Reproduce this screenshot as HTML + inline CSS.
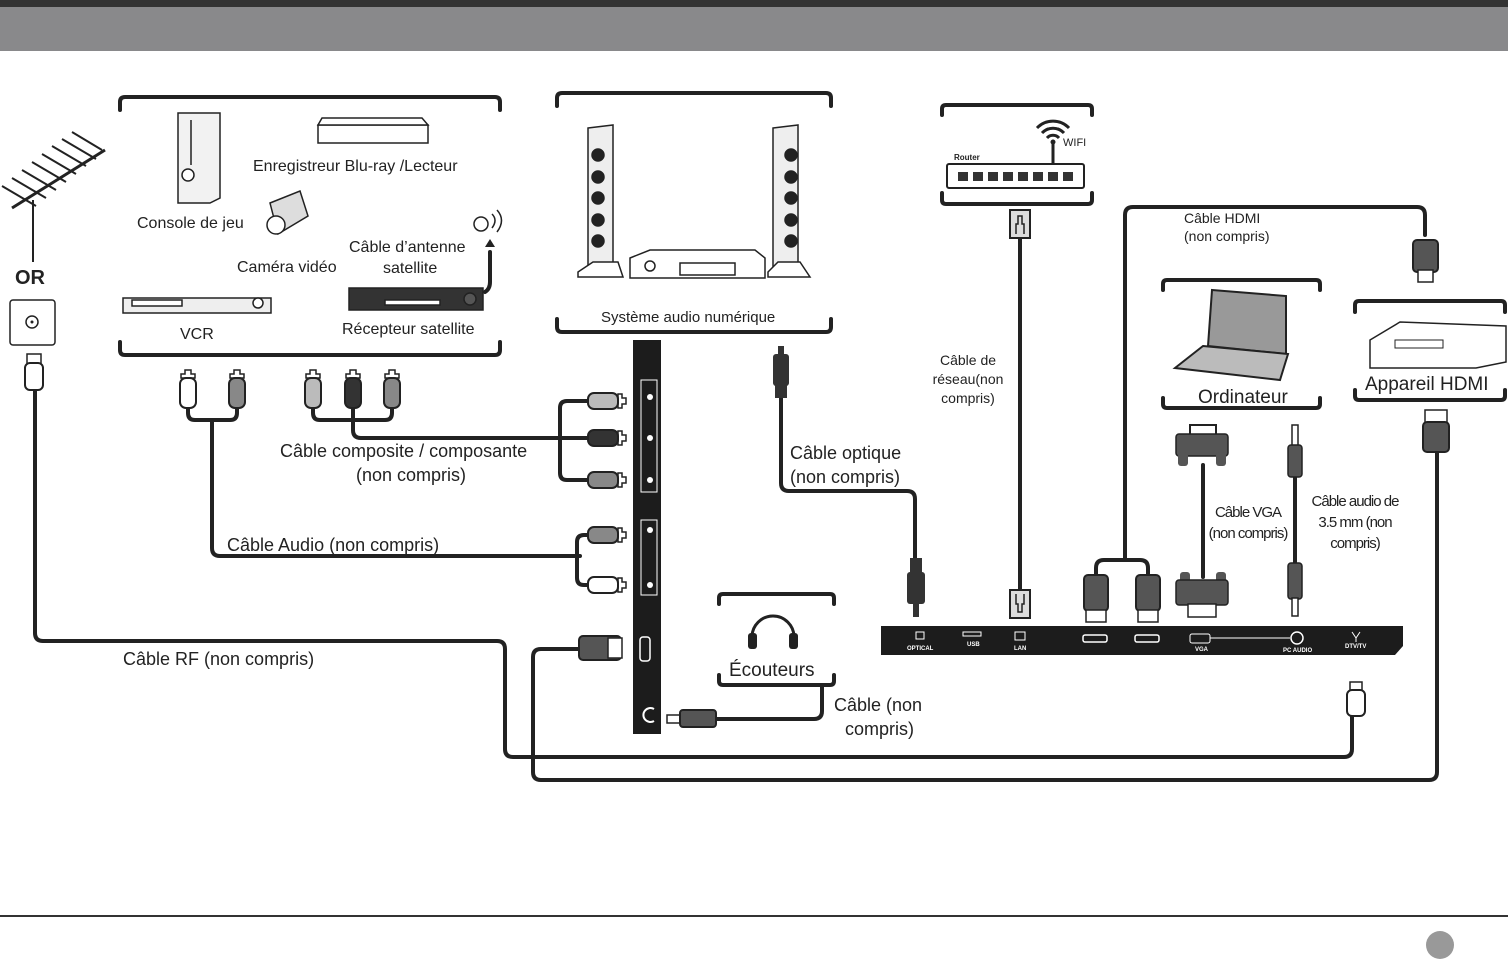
<!DOCTYPE html>
<html><head><meta charset="utf-8"><style>
html,body{margin:0;padding:0;background:#fff;}
svg{display:block;}
text{font-family:"Liberation Sans",sans-serif;fill:#222;}
</style></head><body>
<svg width="1508" height="965" viewBox="0 0 1508 965" xmlns="http://www.w3.org/2000/svg">
<defs>
<g id="rca"><path d="M-3,-14 h6 v4 h4 v4 h-14 v-4 h4z" fill="#fff" stroke="#222" stroke-width="1.5"/><rect x="-8" y="-6" width="16" height="30" rx="6" stroke="#222" stroke-width="2"/></g>
<g id="rcah"><path d="M14,-3 v6 h-4 v4 h-4 v-14 h4 v4z" fill="#fff" stroke="#222" stroke-width="1.5"/><rect x="-24" y="-8" width="30" height="16" rx="6" stroke="#222" stroke-width="2"/></g>
</defs>
<!-- header -->
<rect x="0" y="0" width="1508" height="7" fill="#333"/>
<rect x="0" y="7" width="1508" height="44" fill="#89898b"/>
<line x1="0" y1="916" x2="1508" y2="916" stroke="#333" stroke-width="2"/>
<circle cx="1440" cy="945" r="14" fill="#999"/>

<g fill="none" stroke="#222" stroke-width="4" stroke-linecap="round" stroke-linejoin="round">
<!-- brackets -->
<path d="M120,110 v-8 q0,-5 5,-5 h370 q5,0 5,5 v8"/>
<path d="M120,342 v8 q0,5 5,5 h370 q5,0 5,-5 v-8"/>
<path d="M557,106 v-8 q0,-5 5,-5 h264 q5,0 5,5 v8"/>
<path d="M557,319 v8 q0,5 5,5 h264 q5,0 5,-5 v-8"/>
<path d="M942,115 v-6 q0,-4 4,-4 h142 q4,0 4,4 v6"/>
<path d="M942,193 v7 q0,4 4,4 h142 q4,0 4,-4 v-7"/>
<path d="M1163,290 v-6 q0,-4 4,-4 h149 q4,0 4,4 v6"/>
<path d="M1163,398 v6 q0,4 4,4 h149 q4,0 4,-4 v-6"/>
<path d="M1355,312 v-7 q0,-4 4,-4 h142 q4,0 4,4 v7"/>
<path d="M1355,390 v6 q0,4 4,4 h142 q4,0 4,-4 v-6"/>
<path d="M719,604 v-6 q0,-4 4,-4 h107 q4,0 4,4 v6"/>
<path d="M719,675 v6 q0,4 4,4 h107 q4,0 4,-4 v-6"/>

<!-- audio cable -->
<path d="M188,405 v8 q0,7 7,7 h35 q7,0 7,-7 v-8"/>
<path d="M212,420 v128 q0,8 8,8 h360"/>
<path d="M600,535 h-16 q-7,0 -7,7 v36 q0,7 7,7 h16"/>
<!-- composite -->
<path d="M313,405 v8 q0,7 7,7 h65 q7,0 7,-7 v-8"/>
<path d="M353,405 v25 q0,8 8,8 h230"/>
<path d="M595,401 h-28 q-7,0 -7,7 v65 q0,7 7,7 h28"/>
<!-- RF -->
<path d="M35,388 v245 q0,8 8,8 h454 q8,0 8,8 v100 q0,8 8,8 h831 q8,0 8,-8 v-44"/>
<!-- HDMI bottom -->
<path d="M1437,450 v322 q0,8 -8,8 h-888 q-8,0 -8,-8 v-115 q0,-8 8,-8 h40"/>
<!-- optical -->
<path d="M781,395 v88 q0,8 8,8 h118 q8,0 8,8 v60"/>
<!-- headphone cable -->
<path d="M822,686 v25 q0,8 -8,8 h-100"/>
<!-- LAN -->
<path d="M1020,238 v352"/>
<!-- HDMI top -->
<path d="M1425,235 v-20 q0,-8 -8,-8 h-284 q-8,0 -8,8 v345"/>
<path d="M1096,578 v-10 q0,-8 8,-8 h36 q8,0 8,8 v10"/>
<!-- VGA, audio 3.5 -->
<path d="M1203,465 v112"/>
<path d="M1295,475 v90"/>
<!-- sat arrow -->
<path d="M485,292 q5,-3 5,-10 v-30"/>
</g>
<path d="M485,247 l5,-8 l5,8z" fill="#222"/>

<!-- antenna -->
<g stroke="#222" stroke-width="3" fill="none">
<line x1="12" y1="208" x2="105" y2="150"/>
<line x1="33" y1="200" x2="33" y2="262" stroke-width="2"/>
<g stroke-width="2">
<line x1="2" y1="186" x2="36" y2="206"/><line x1="12" y1="178" x2="46" y2="198"/><line x1="22" y1="170" x2="56" y2="190"/>
<line x1="32" y1="162" x2="66" y2="182"/><line x1="42" y1="154" x2="76" y2="174"/><line x1="52" y1="146" x2="86" y2="166"/>
<line x1="62" y1="139" x2="96" y2="159"/><line x1="72" y1="132" x2="102" y2="150"/>
</g></g>
<text x="15" y="284" font-size="20" font-weight="bold">OR</text>
<rect x="10" y="300" width="45" height="45" rx="3" fill="#fff" stroke="#222" stroke-width="1.5"/>
<circle cx="32" cy="322" r="6" fill="none" stroke="#222" stroke-width="1.5"/><circle cx="32" cy="322" r="1.5" fill="#222"/>
<rect x="27" y="354" width="14" height="10" fill="#fff" stroke="#222" stroke-width="1.5"/>
<rect x="25" y="363" width="18" height="27" rx="5" fill="#fff" stroke="#222" stroke-width="2"/>

<!-- devices group 1 -->
<g stroke="#222" stroke-width="1.5" fill="#fff">
<path d="M178,113 h42 v85 l-10,5 h-32z" fill="#f2f2f2"/>
<circle cx="188" cy="175" r="6"/><line x1="191" y1="120" x2="191" y2="165"/>
<path d="M318,125 h110 v18 h-110z"/><path d="M322,118 h100 l6,7 h-110z"/>
<path d="M123,298 h148 v15 h-148z" fill="#eee"/><circle cx="258" cy="303" r="5"/><rect x="132" y="300" width="50" height="6"/>
<path d="M349,288 h134 v22 h-134z" fill="#333"/><circle cx="470" cy="299" r="6" fill="#555"/><rect x="385" y="300" width="55" height="5"/>
<path d="M270,203 l30,-12 l8,25 l-30,18z" fill="#ddd"/><circle cx="276" cy="225" r="9"/>
<circle cx="481" cy="224" r="7"/><path d="M492,214 q6,6 0,14 M497,210 q9,10 0,22" fill="none"/>
</g>
<text x="137" y="228" font-size="16">Console de jeu</text>
<text x="253" y="171" font-size="16">Enregistreur Blu-ray /Lecteur</text>
<text x="237" y="272" font-size="16">Caméra vidéo</text>
<text x="349" y="252" font-size="16">Câble d’antenne</text>
<text x="383" y="273" font-size="16">satellite</text>
<text x="180" y="339" font-size="16">VCR</text>
<text x="342" y="334" font-size="16">Récepteur satellite</text>

<!-- RCA plugs top -->
<use href="#rca" x="188" y="384" fill="#fff"/>
<use href="#rca" x="237" y="384" fill="#888"/>
<use href="#rca" x="313" y="384" fill="#bbb"/>
<use href="#rca" x="353" y="384" fill="#333"/>
<use href="#rca" x="392" y="384" fill="#888"/>
<!-- horizontal RCA plugs -->
<use href="#rcah" x="612" y="401" fill="#bbb"/>
<use href="#rcah" x="612" y="438" fill="#333"/>
<use href="#rcah" x="612" y="480" fill="#888"/>
<use href="#rcah" x="612" y="535" fill="#888"/>
<use href="#rcah" x="612" y="585" fill="#fff"/>

<text x="280" y="457" font-size="18">Câble composite / composante</text>
<text x="356" y="481" font-size="18">(non compris)</text>
<text x="227" y="551" font-size="18">Câble Audio (non compris)</text>
<text x="123" y="665" font-size="18">Câble RF (non compris)</text>

<!-- side panel -->
<rect x="633" y="340" width="28" height="394" fill="#1c1c1c"/>
<rect x="641" y="380" width="16" height="112" fill="none" stroke="#fff" stroke-width="1"/>
<rect x="641" y="520" width="16" height="75" fill="none" stroke="#fff" stroke-width="1"/>
<circle cx="650" cy="397" r="3" fill="#fff"/><circle cx="650" cy="438" r="3" fill="#fff"/><circle cx="650" cy="480" r="3" fill="#fff"/>
<circle cx="650" cy="530" r="3" fill="#fff"/><circle cx="650" cy="585" r="3" fill="#fff"/>
<rect x="640" y="637" width="10" height="24" rx="3" fill="none" stroke="#fff" stroke-width="1.5"/>
<path d="M654,709 a7,7 0 1 0 0,12" fill="none" stroke="#fff" stroke-width="2"/>
<!-- hdmi plug left -->
<rect x="579" y="636" width="42" height="24" rx="4" fill="#555" stroke="#222" stroke-width="2"/>
<rect x="608" y="638" width="14" height="20" fill="#fff" stroke="#222" stroke-width="1.5"/>
<!-- headphone jack -->
<rect x="667" y="715" width="14" height="8" fill="#fff" stroke="#222" stroke-width="1.5"/>
<rect x="680" y="710" width="36" height="17" rx="3" fill="#555" stroke="#222" stroke-width="2"/>

<!-- audio system -->
<g stroke="#222" stroke-width="1.5">
<path d="M588,128 l25,-3 v140 l-25,2z" fill="#eee"/>
<circle cx="598" cy="155" r="6" fill="#222"/><circle cx="598" cy="177" r="6" fill="#222"/><circle cx="598" cy="198" r="6" fill="#222"/><circle cx="598" cy="220" r="6" fill="#222"/><circle cx="598" cy="241" r="6" fill="#222"/>
<path d="M578,272 l15,-10 h25 l5,15 h-45z" fill="#fff"/>
<path d="M773,128 l25,-3 v140 l-25,2z" fill="#eee"/>
<circle cx="791" cy="155" r="6" fill="#222"/><circle cx="791" cy="177" r="6" fill="#222"/><circle cx="791" cy="198" r="6" fill="#222"/><circle cx="791" cy="220" r="6" fill="#222"/><circle cx="791" cy="241" r="6" fill="#222"/>
<path d="M768,272 l10,-10 h22 l10,15 h-42z" fill="#fff"/>
<path d="M630,258 l20,-8 h105 l10,8 v20 h-135z" fill="#fff"/>
<rect x="680" y="263" width="55" height="12" fill="#fff"/><circle cx="650" cy="266" r="5" fill="#fff"/>
</g>
<text x="601" y="322" font-size="15">Système audio numérique</text>

<!-- optical plug top -->
<rect x="778" y="346" width="6" height="10" fill="#333"/>
<rect x="773" y="354" width="16" height="32" rx="3" fill="#333"/>
<rect x="775" y="384" width="12" height="14" fill="#333"/>
<text x="790" y="459" font-size="18">Câble optique</text>
<text x="790" y="483" font-size="18">(non compris)</text>
<!-- optical plug bottom -->
<rect x="910" y="558" width="12" height="16" fill="#333"/>
<rect x="907" y="572" width="18" height="32" rx="3" fill="#333"/>
<rect x="913" y="603" width="6" height="14" fill="#333"/>

<!-- headphones -->
<path d="M752,645 v-8 a21,21 0 0 1 42,0 v8" fill="none" stroke="#222" stroke-width="3"/>
<rect x="748" y="633" width="9" height="16" rx="3" fill="#222"/><rect x="789" y="633" width="9" height="16" rx="3" fill="#222"/>
<text x="729" y="676" font-size="19">Écouteurs</text>
<text x="834" y="711" font-size="18">Câble (non</text>
<text x="845" y="735" font-size="18">compris)</text>

<!-- router -->
<path d="M1053,163 v-22" stroke="#222" stroke-width="3"/>
<path d="M1037,128 a22,22 0 0 1 32,0 M1042,133 a15,15 0 0 1 22,0 M1047,138 a8,8 0 0 1 12,0" fill="none" stroke="#222" stroke-width="3"/>
<circle cx="1053" cy="142" r="2.5" fill="#222"/>
<text x="1063" y="146" font-size="11">WIFI</text>
<text x="954" y="160" font-size="8" font-weight="bold">Router</text>
<rect x="947" y="164" width="137" height="24" rx="2" fill="#fff" stroke="#222" stroke-width="2"/>
<g fill="#333"><rect x="958" y="172" width="10" height="9"/><rect x="973" y="172" width="10" height="9"/><rect x="988" y="172" width="10" height="9"/><rect x="1003" y="172" width="10" height="9"/><rect x="1018" y="172" width="10" height="9"/><rect x="1033" y="172" width="10" height="9"/><rect x="1048" y="172" width="10" height="9"/><rect x="1063" y="172" width="10" height="9"/></g>
<rect x="1010" y="210" width="20" height="28" fill="#ddd" stroke="#222" stroke-width="2"/>
<path d="M1016,234 v-10 h2 v-8 h4 v8 h2 v10" fill="none" stroke="#222" stroke-width="1.5"/>
<rect x="1010" y="590" width="20" height="28" fill="#ddd" stroke="#222" stroke-width="2"/>
<path d="M1016,594 v10 h2 v8 h4 v-8 h2 v-10" fill="none" stroke="#222" stroke-width="1.5"/>
<text x="968" y="365" font-size="14" text-anchor="middle">Câble de</text>
<text x="968" y="384" font-size="14" text-anchor="middle">réseau(non</text>
<text x="968" y="403" font-size="14" text-anchor="middle">compris)</text>

<!-- HDMI labels -->
<text x="1184" y="223" font-size="14">Câble HDMI</text>
<text x="1184" y="241" font-size="14">(non compris)</text>
<rect x="1413" y="240" width="25" height="32" rx="4" fill="#555" stroke="#222" stroke-width="2"/>
<rect x="1418" y="270" width="15" height="12" fill="#fff" stroke="#222" stroke-width="1.5"/>

<!-- laptop -->
<path d="M1212,290 l74,6 v58 l-78,-8z" fill="#999" stroke="#222" stroke-width="2"/>
<path d="M1203,346 l85,8 l-8,26 l-105,-12z" fill="#bbb" stroke="#222" stroke-width="2"/>
<text x="1198" y="403" font-size="19">Ordinateur</text>
<!-- HDMI device -->
<path d="M1370,340 l30,-18 l106,4 v36 l-30,6 h-106z" fill="#fff" stroke="#222" stroke-width="1.5"/>
<rect x="1395" y="340" width="48" height="8" fill="#fff" stroke="#222" stroke-width="1"/>
<text x="1365" y="390" font-size="19">Appareil HDMI</text>
<rect x="1425" y="410" width="22" height="14" fill="#fff" stroke="#222" stroke-width="1.5"/>
<rect x="1423" y="422" width="26" height="30" rx="4" fill="#555" stroke="#222" stroke-width="2"/>

<!-- VGA top -->
<rect x="1190" y="425" width="26" height="14" fill="#fff" stroke="#222" stroke-width="2"/>
<rect x="1176" y="434" width="52" height="22" rx="3" fill="#555" stroke="#222" stroke-width="1.5"/>
<rect x="1178" y="452" width="10" height="14" rx="3" fill="#555"/><rect x="1216" y="452" width="10" height="14" rx="3" fill="#555"/>
<!-- 3.5 top -->
<rect x="1292" y="425" width="6" height="22" fill="#fff" stroke="#222" stroke-width="1.5"/>
<rect x="1288" y="445" width="14" height="32" rx="3" fill="#555" stroke="#222" stroke-width="1.5"/>
<text x="1248" y="517" font-size="15" text-anchor="middle" letter-spacing="-1">Câble VGA</text>
<text x="1248" y="538" font-size="15" text-anchor="middle" letter-spacing="-1">(non compris)</text>
<text x="1355" y="506" font-size="15" text-anchor="middle" letter-spacing="-1">Câble audio de</text>
<text x="1355" y="527" font-size="15" text-anchor="middle" letter-spacing="-1">3.5 mm (non</text>
<text x="1355" y="548" font-size="15" text-anchor="middle" letter-spacing="-1">compris)</text>

<!-- bottom connectors -->
<rect x="1084" y="575" width="24" height="36" rx="4" fill="#555" stroke="#222" stroke-width="2"/>
<rect x="1086" y="610" width="20" height="12" fill="#fff" stroke="#222" stroke-width="1.5"/>
<rect x="1136" y="575" width="24" height="36" rx="4" fill="#555" stroke="#222" stroke-width="2"/>
<rect x="1138" y="610" width="20" height="12" fill="#fff" stroke="#222" stroke-width="1.5"/>
<rect x="1180" y="572" width="10" height="14" rx="3" fill="#555"/><rect x="1216" y="572" width="10" height="14" rx="3" fill="#555"/>
<rect x="1176" y="580" width="52" height="25" rx="3" fill="#555" stroke="#222" stroke-width="1.5"/>
<rect x="1188" y="604" width="28" height="13" fill="#fff" stroke="#222" stroke-width="1.5"/>
<rect x="1288" y="563" width="14" height="36" rx="3" fill="#555" stroke="#222" stroke-width="1.5"/>
<rect x="1292" y="598" width="6" height="18" fill="#fff" stroke="#222" stroke-width="1.5"/>

<!-- TV bottom panel -->
<path d="M881,626 h522 v20 l-8,9 h-514z" fill="#1c1c1c"/>
<g fill="#fff" font-size="6" font-weight="bold">
<rect x="916" y="632" width="8" height="7" fill="none" stroke="#fff"/>
<text x="907" y="650" style="fill:#fff">OPTICAL</text>
<rect x="963" y="632" width="18" height="4" fill="none" stroke="#fff"/>
<text x="967" y="646" style="fill:#fff">USB</text>
<rect x="1015" y="632" width="10" height="8" fill="none" stroke="#fff"/>
<text x="1014" y="650" style="fill:#fff">LAN</text>
<rect x="1083" y="635" width="24" height="7" rx="2" fill="none" stroke="#fff" stroke-width="1.5"/>
<rect x="1135" y="635" width="24" height="7" rx="2" fill="none" stroke="#fff" stroke-width="1.5"/>
<rect x="1190" y="634" width="20" height="9" rx="2" fill="none" stroke="#fff"/>
<line x1="1210" y1="638" x2="1290" y2="638" stroke="#fff"/>
<circle cx="1297" cy="638" r="6" fill="none" stroke="#fff" stroke-width="1.5"/>
<text x="1195" y="651" style="fill:#fff">VGA</text>
<text x="1283" y="652" style="fill:#fff">PC AUDIO</text>
<text x="1345" y="648" style="fill:#fff">DTV/TV</text>
<path d="M1352,632 l4,6 l4,-6 M1356,638 v4" stroke="#fff" fill="none"/>
</g>
<!-- RF plug right -->
<rect x="1350" y="682" width="12" height="10" fill="#fff" stroke="#222" stroke-width="1.5"/>
<rect x="1347" y="690" width="18" height="26" rx="5" fill="#fff" stroke="#222" stroke-width="2"/>
</svg>
</body></html>
